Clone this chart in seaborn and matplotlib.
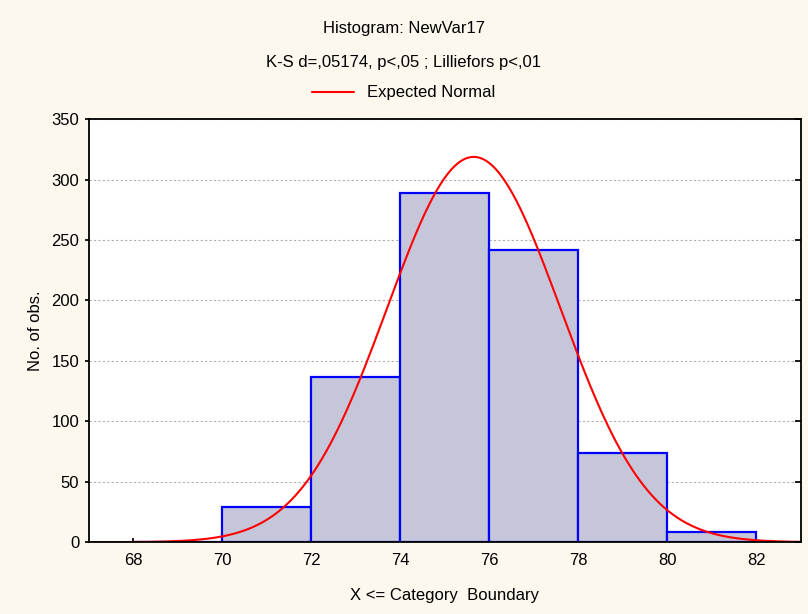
import numpy as np
import pandas as pd
import seaborn as sns
import matplotlib.pyplot as plt

# histogram bins (upper boundaries) and counts
bin_edges = [68, 70, 72, 74, 76, 78, 80, 82]
counts = [0, 29, 137, 289, 242, 74, 8]
x_ticks = [68, 70, 72, 74, 76, 78, 80, 82]
y_ticks = [0, 50, 100, 150, 200, 250, 300, 350]

# expected normal parameters
mean_val = 75.65
sd_val = 1.95

sns.set_theme(style="white")
plt.rcParams['font.family'] = ['Liberation Sans', 'DejaVu Sans']
plt.rcParams['text.color'] = 'black'
plt.rcParams['axes.labelcolor'] = 'black'

centers = [(a + b) / 2 for a, b in zip(bin_edges[:-1], bin_edges[1:])]
df = pd.DataFrame({"x": centers, "n": counts})

n_total = sum(counts)
width = bin_edges[1] - bin_edges[0]
xs = np.linspace(66, 84, 400)
ys = n_total * width / (sd_val * np.sqrt(2 * np.pi)) * np.exp(-0.5 * ((xs - mean_val) / sd_val) ** 2)
curve = pd.DataFrame({"x": xs, "y": ys})

fig = plt.figure(figsize=(8.08, 6.14), dpi=100, facecolor="#fdf8ee")
ax = fig.add_axes([0.110, 0.117, 0.881, 0.689])
ax.set_facecolor("white")

sns.histplot(data=df, x="x", weights="n", bins=bin_edges, ax=ax,
             color="#c6c6db", edgecolor="#0000ff", linewidth=1.6, alpha=1)
sns.lineplot(data=curve, x="x", y="y", ax=ax, color="#ff0000", linewidth=1.5,
             label="Expected Normal", legend=False)

ax.set_xlim(67, 83)
ax.set_ylim(0, 350)
ax.set_xticks(x_ticks)
ax.set_yticks(y_ticks)
ax.yaxis.grid(True, linestyle=(0, (2, 2)), color="#b0b0b0", linewidth=0.8)
ax.set_axisbelow(True)

for s in ax.spines.values():
    s.set_color("black")
    s.set_linewidth(1.3)

fs = 12
ax.tick_params(axis="y", left=True, direction="out", length=3,
               labelsize=fs, colors="black", pad=4)
ax.tick_params(axis="x", bottom=True, direction="in", length=3,
               labelsize=fs, colors="black", pad=8)

# inward ticks on the right side
ax_r = ax.twinx()
ax_r.set_ylim(ax.get_ylim())
ax_r.set_yticks(y_ticks)
ax_r.tick_params(axis="y", right=True, direction="in", length=4, labelright=False,
                 colors="black")
ax_r.grid(False)
for s in ax_r.spines.values():
    s.set_visible(False)

ax.set_xlabel("X <= Category  Boundary", fontsize=fs, labelpad=14)
ax.set_ylabel("No. of obs.", fontsize=fs, labelpad=6)

fig.text(0.5, 1 - 28 / 614, "Histogram: NewVar17", ha="center", va="center", fontsize=fs)
fig.text(0.5, 1 - 62 / 614, "K-S d=,05174, p<,05 ; Lilliefors p<,01", ha="center", va="center", fontsize=fs)
fig.legend(loc="center", bbox_to_anchor=(0.5, 1 - 93 / 614), frameon=False,
           fontsize=fs, handlelength=2.5)

plt.savefig("out.png", dpi=100, facecolor=fig.get_facecolor())
